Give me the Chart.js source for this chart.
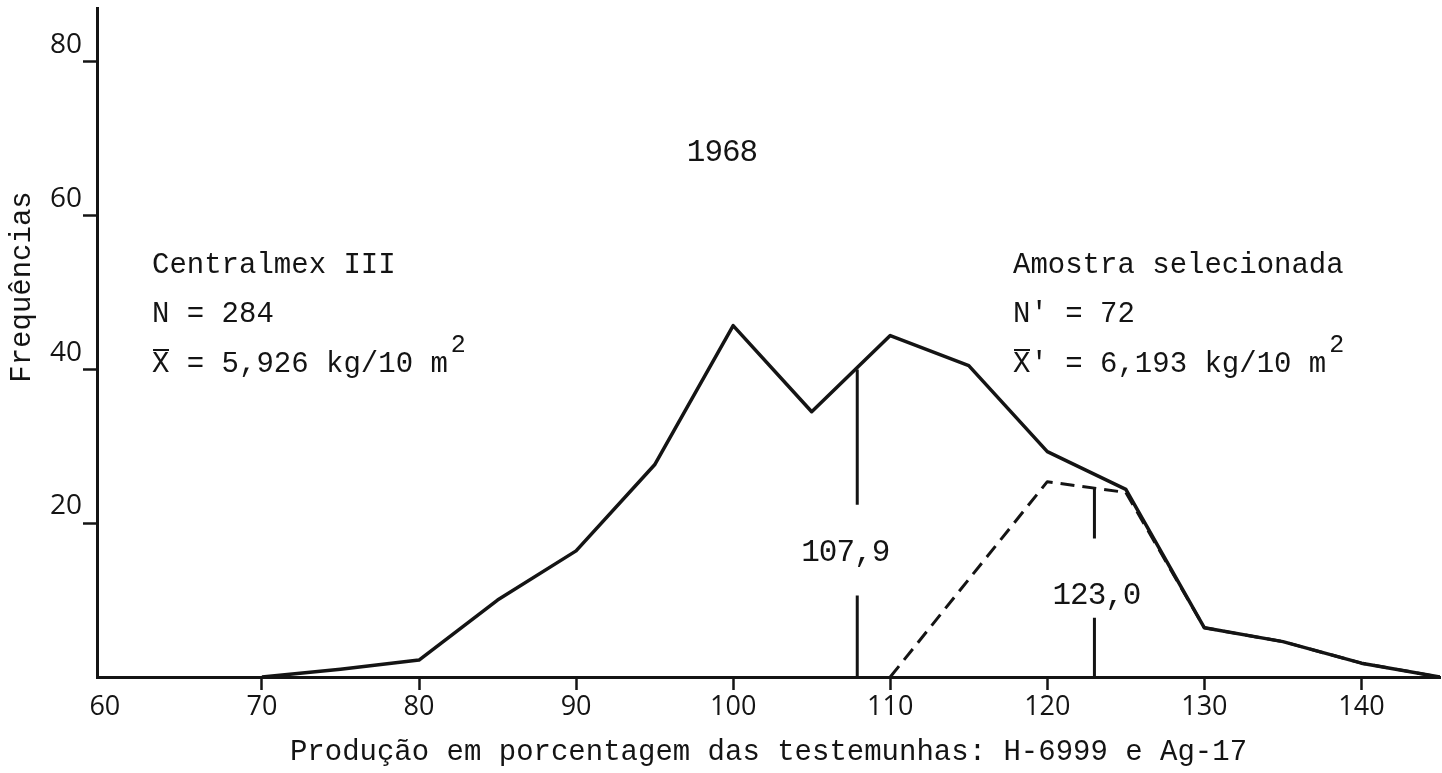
<!DOCTYPE html>
<html>
<head>
<meta charset="utf-8">
<script src="https://cdn.jsdelivr.net/npm/chart.js@4.4.1/dist/chart.umd.min.js"></script>
<style>
  html, body { margin: 0; padding: 0; background: #fff; }
</style>
</head>
<body>
<canvas id="chart" width="1442" height="773"></canvas>
<script>
// Frequency polygons, 1968
const classes = [70, 75, 80, 85, 90, 95, 100, 105, 110, 115, 120, 125, 130, 135, 140, 145];
const freqAll = [0, 1, 2.2, 10, 16.4, 27.6, 45.7, 34.5, 44.4, 40.5, 29.3, 24.4, 6.4, 4.6, 1.8, 0];
const freqSel = [null, null, null, null, null, null, null, null, 0, 12.7, 25.4, 24, 6.4, 4.6, 1.8, 0];
const xTicks = [60, 70, 80, 90, 100, 110, 120, 130, 140];
const yTicks = [20, 40, 60, 80];
const meanAll = 107.9;
const meanSel = 123.0;

const INK = '#141414';
const MONO = '"Liberation Mono", "DejaVu Sans Mono", monospace';
const SANS = '"Open Sans", "Noto Sans", sans-serif';

function pts(ys) {
  const out = [];
  classes.forEach((c, i) => { if (ys[i] !== null) out.push({ x: c, y: ys[i] }); });
  return out;
}

// vertical mean line, broken where its label sits
function meanLine(x, gapLow, gapHigh, top) {
  return [{ x: x, y: 0 }, { x: x, y: gapLow }, { x: x, y: null }, { x: x, y: gapHigh }, { x: x, y: top }];
}

// texts typed on the figure
const textPlugin = {
  id: 'texts',
  afterDraw(chart) {
    const ctx = chart.ctx;
    const xs = chart.scales.x, ys = chart.scales.y;
    ctx.save();
    ctx.fillStyle = INK;
    ctx.strokeStyle = INK;
    ctx.textBaseline = 'middle';

    ctx.font = '31px ' + MONO;
    ctx.letterSpacing = '-1px';
    ctx.textAlign = 'center';
    ctx.fillText('1968', 722, 153);
    ctx.fillText('107,9', xs.getPixelForValue(meanAll) - 12, ys.getPixelForValue(16.1));
    ctx.fillText('123,0', xs.getPixelForValue(meanSel) + 2, ys.getPixelForValue(10.6));

    ctx.font = '29px ' + MONO;
    ctx.letterSpacing = '0px';
    ctx.textAlign = 'left';
    const lines = [
      ['Centralmex III', 152, 265], ['N = 284', 152, 314],
      ['Amostra selecionada', 1013, 265], ["N' = 72", 1013, 314]
    ];
    lines.forEach(l => ctx.fillText(l[0], l[1], l[2]));

    const means = [['X = 5,926 kg/10 m', 152], ["X' = 6,193 kg/10 m", 1013]];
    means.forEach(m => {
      ctx.font = '29px ' + MONO;
      ctx.fillText(m[0], m[1], 364);
      const w = ctx.measureText(m[0]).width;
      ctx.font = '25px ' + MONO;
      ctx.fillText('2', m[1] + w + 3, 345);
      // bar over X
      ctx.lineWidth = 2;
      ctx.beginPath();
      ctx.moveTo(m[1] + 1, 350);
      ctx.lineTo(m[1] + 17, 350);
      ctx.stroke();
    });

    // y title
    ctx.font = '29px ' + MONO;
    ctx.translate(22, 287);
    ctx.rotate(-Math.PI / 2);
    ctx.textAlign = 'center';
    ctx.fillText('Frequências', 0, 0);
    ctx.restore();
  }
};

new Chart(document.getElementById('chart'), {
  type: 'line',
  data: {
    datasets: [
      { label: 'Centralmex III', data: pts(freqAll), borderColor: INK, borderWidth: 3.5 },
      { label: 'Amostra selecionada', data: pts(freqSel), borderColor: INK, borderWidth: 3, borderDash: [14, 8] },
      { label: 'média', data: meanLine(meanAll, 10.6, 22.4, 40), borderColor: INK, borderWidth: 3 },
      { label: 'média sel.', data: meanLine(meanSel, 7.7, 18, 24.6), borderColor: INK, borderWidth: 3 }
    ]
  },
  options: {
    responsive: false,
    animation: false,
    devicePixelRatio: 1,
    layout: { padding: { left: 0, right: 2, top: 8, bottom: 0 } },
    elements: {
      point: { radius: 0 },
      line: { tension: 0, borderJoinStyle: 'round', borderCapStyle: 'butt' }
    },
    plugins: { legend: { display: false }, tooltip: { enabled: false } },
    scales: {
      x: {
        type: 'linear',
        min: 59.5,
        max: 145,
        afterBuildTicks: s => { s.ticks = xTicks.map(v => ({ value: v })); },
        afterFit: s => { s.height = 96; s.paddingLeft = 0; s.paddingRight = 0; },
        grid: {
          drawOnChartArea: false, tickLength: 13, tickWidth: 2.5,
          tickColor: c => (c.tick && c.tick.value === 60 ? 'rgba(0,0,0,0)' : INK)
        },
        border: { color: INK, width: 3 },
        ticks: { color: INK, padding: 1, font: { family: SANS, size: 27 } },
        title: {
          display: true,
          text: 'Produção em porcentagem das testemunhas: H-6999 e Ag-17',
          color: INK,
          font: { family: MONO, size: 29 },
          padding: { top: 0, bottom: 3 }
        }
      },
      y: {
        min: 0,
        max: 87,
        afterBuildTicks: s => { s.ticks = yTicks.map(v => ({ value: v })); },
        afterFit: s => { s.width = 97; s.paddingTop = 0; s.paddingBottom = 0; },
        grid: { drawOnChartArea: false, tickLength: 14, tickWidth: 2.5, tickColor: INK },
        border: { color: INK, width: 3 },
        ticks: {
          color: INK, padding: 1, font: { family: SANS, size: 28 },
          callback: v => [String(v), '']
        }
      }
    }
  },
  plugins: [textPlugin]
});
</script>
</body>
</html>
